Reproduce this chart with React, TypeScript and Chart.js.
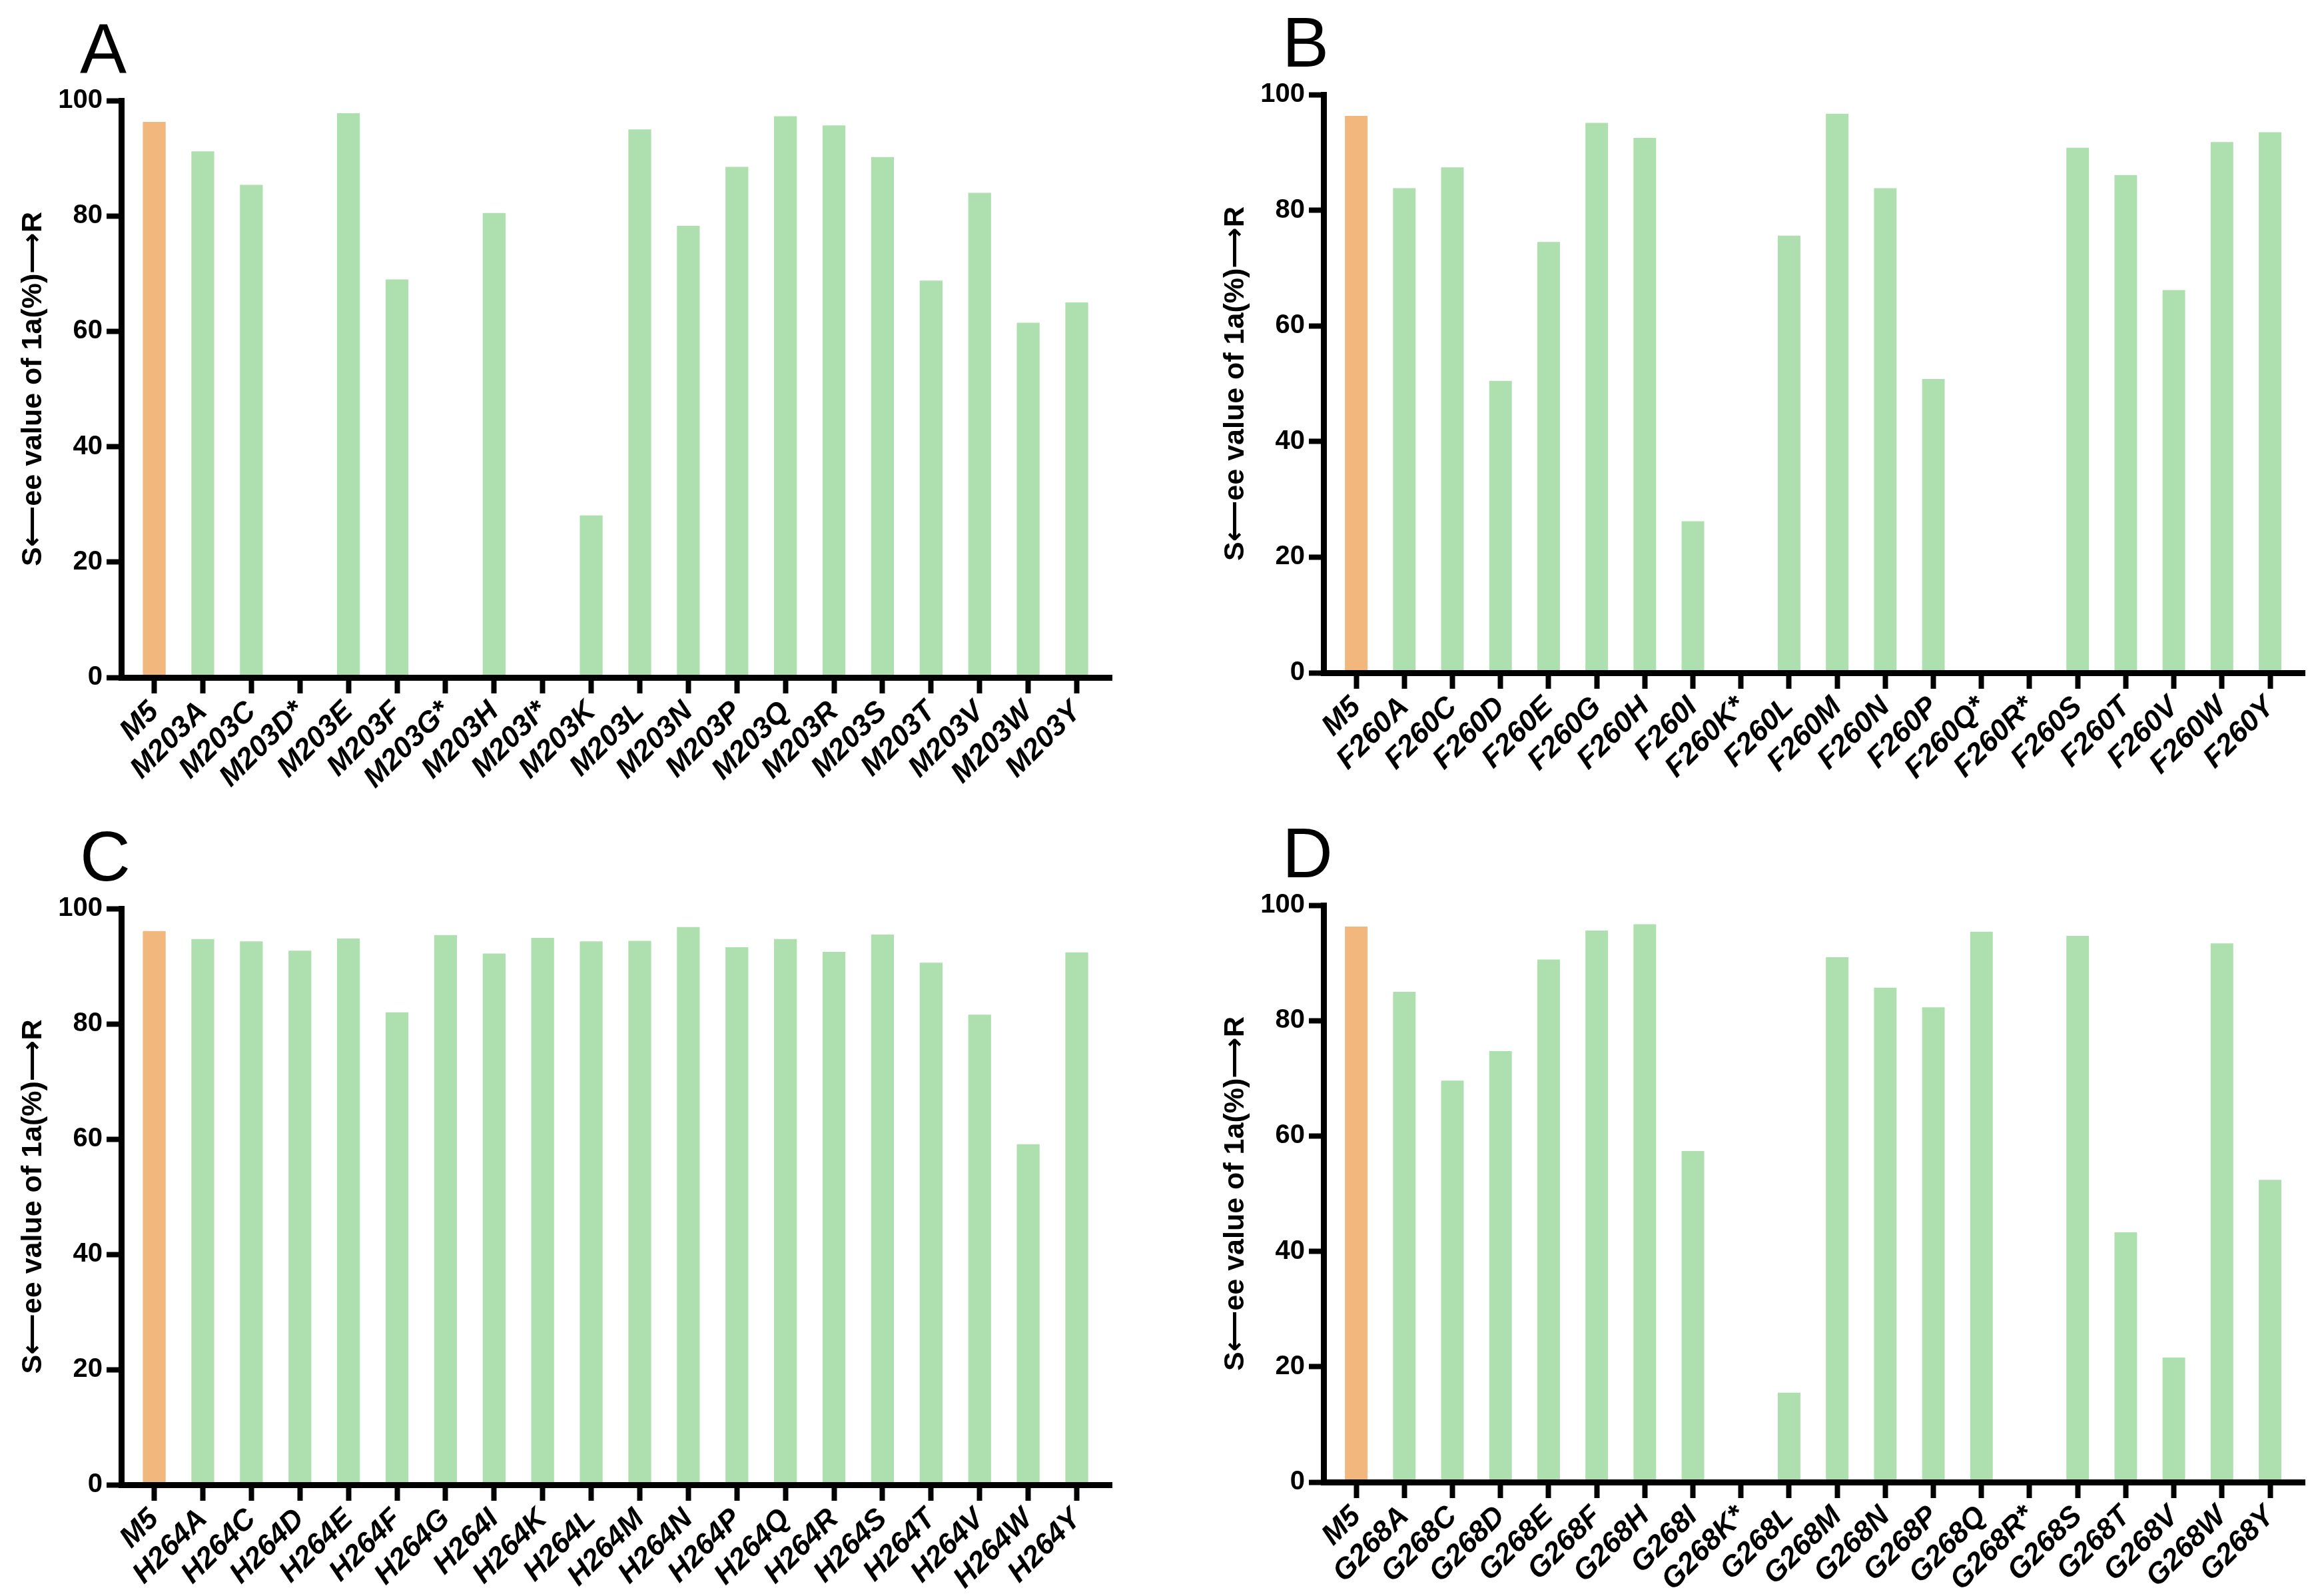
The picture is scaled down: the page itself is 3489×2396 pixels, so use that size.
import React, { useEffect, useRef } from 'react';
import { Chart, registerables } from 'chart.js';

Chart.register(...registerables);

const FONT = "'Liberation Sans', Arial, 'DejaVu Sans', sans-serif";
const ORANGE = '#F1B77C';
const GREEN = '#AEDFAF';

// ---- data ----
const labelsA = ['M5', 'M203A', 'M203C', 'M203D*', 'M203E', 'M203F', 'M203G*', 'M203H', 'M203I*', 'M203K', 'M203L', 'M203N', 'M203P', 'M203Q', 'M203R', 'M203S', 'M203T', 'M203V', 'M203W', 'M203Y'];
const valuesA = [96.3, 91.2, 85.4, null, 97.8, 69.0, null, 80.5, null, 28.1, 95.0, 78.3, 88.5, 97.3, 95.7, 90.2, 68.8, 84.0, 61.5, 65.0];

const labelsB = ['M5', 'F260A', 'F260C', 'F260D', 'F260E', 'F260G', 'F260H', 'F260I', 'F260K*', 'F260L', 'F260M', 'F260N', 'F260P', 'F260Q*', 'F260R*', 'F260S', 'F260T', 'F260V', 'F260W', 'F260Y'];
const valuesB = [96.3, 83.8, 87.4, 50.5, 74.5, 95.1, 92.5, 26.2, null, 75.6, 96.7, 83.8, 50.8, null, null, 90.8, 86.1, 66.2, 91.8, 93.5];

const labelsC = ['M5', 'H264A', 'H264C', 'H264D', 'H264E', 'H264F', 'H264G', 'H264I', 'H264K', 'H264L', 'H264M', 'H264N', 'H264P', 'H264Q', 'H264R', 'H264S', 'H264T', 'H264V', 'H264W', 'H264Y'];
const valuesC = [96.1, 94.7, 94.3, 92.7, 94.8, 82.0, 95.4, 92.2, 94.9, 94.3, 94.4, 96.8, 93.3, 94.7, 92.5, 95.5, 90.6, 81.6, 59.1, 92.4];

const labelsD = ['M5', 'G268A', 'G268C', 'G268D', 'G268E', 'G268F', 'G268H', 'G268I', 'G268K*', 'G268L', 'G268M', 'G268N', 'G268P', 'G268Q', 'G268R*', 'G268S', 'G268T', 'G268V', 'G268W', 'G268Y'];
const valuesD = [96.3, 85.0, 69.6, 74.7, 90.6, 95.6, 96.7, 57.4, null, 15.5, 91.0, 85.7, 82.3, 95.4, null, 94.7, 43.3, 21.6, 93.4, 52.4];

const yTicks = [0, 20, 40, 60, 80, 100];
const yTitle = 'S\u27F5ee value of 1a(%)\u27F6R';
const panelLetters = ['A', 'B', 'C', 'D'];

// ---- layout (pixels) ----
type Area = { left: number; top: number; right: number; bottom: number };
type PanelDef = {
  letter: string;
  labels: string[];
  values: (number | null)[];
  x: number;
  y: number;
  w: number;
  h: number;
  area: Area;
};

const PW = 1745;
const PH = 1198;

const panels: PanelDef[] = [
  { letter: panelLetters[0], labels: labelsA, values: valuesA, x: 0, y: 0, w: PW, h: PH, area: { left: 182, top: 151, right: 1669, bottom: 1017 } },
  { letter: panelLetters[1], labels: labelsB, values: valuesB, x: PW, y: 0, w: 3489 - PW, h: PH, area: { left: 1987 - PW, top: 142, right: 3460 - PW, bottom: 1010 } },
  { letter: panelLetters[2], labels: labelsC, values: valuesC, x: 0, y: PH, w: PW, h: 2396 - PH, area: { left: 182, top: 1364 - PH, right: 1669, bottom: 2229 - PH } },
  { letter: panelLetters[3], labels: labelsD, values: valuesD, x: PW, y: PH, w: 3489 - PW, h: 2396 - PH, area: { left: 1987 - PW, top: 1359 - PH, right: 3460 - PW, bottom: 2225 - PH } },
];

const letterPlugin = {
  id: 'panelLetter',
  afterDraw(chart: any, _args: any, opts: any) {
    const { ctx, chartArea } = chart;
    ctx.save();
    ctx.font = `105px ${FONT}`;
    ctx.fillStyle = '#000';
    ctx.textAlign = 'left';
    ctx.textBaseline = 'alphabetic';
    ctx.fillText(opts.text, chartArea.left - 62, chartArea.top - 42);
    ctx.restore();
  },
};

function Panel({ p }: { p: PanelDef }) {
  const ref = useRef<HTMLCanvasElement | null>(null);
  useEffect(() => {
    if (!ref.current) return;
    const { area, w, h, labels, values } = p;
    const startOff = 0.68;
    const endOff = 0.72;
    const chart = new Chart(ref.current, {
      type: 'bar',
      data: {
        labels,
        datasets: [
          {
            data: values as any,
            backgroundColor: labels.map((_, i) => (i === 0 ? ORANGE : GREEN)),
            borderWidth: 0,
            categoryPercentage: 1,
            barPercentage: 0.47,
          },
        ],
      },
      options: {
        animation: false,
        responsive: false,
        devicePixelRatio: 1,
        layout: { padding: { left: 0, top: area.top, right: w - area.right, bottom: 0 } },
        plugins: {
          legend: { display: false },
          tooltip: { enabled: false },
          title: { display: false },
          panelLetter: { text: p.letter },
        } as any,
        scales: {
          x: {
            type: 'category',
            offset: true,
            afterBuildTicks: (s: any) => {
              s._startValue = -startOff;
              s._valueRange = labels.length - 1 + startOff + endOff;
            },
            afterFit: (s: any) => {
              s.height = h - area.bottom;
            },
            grid: {
              display: true,
              drawOnChartArea: false,
              drawTicks: true,
              tickLength: 24,
              tickWidth: 8,
              tickColor: '#000',
              offset: false,
              z: 1,
            },
            border: { display: true, color: '#000', width: 9, z: 1 },
            ticks: {
              color: '#000',
              font: { family: FONT, size: 44, weight: 'bold', style: 'italic' },
              maxRotation: 45,
              minRotation: 45,
              autoSkip: false,
              padding: 2,
            },
          } as any,
          y: {
            min: 0,
            max: 100,
            afterFit: (s: any) => {
              s.width = area.left;
            },
            afterBuildTicks: (s: any) => {
              s.ticks = yTicks.map((v) => ({ value: v }));
            },
            grid: {
              display: true,
              drawOnChartArea: false,
              drawTicks: true,
              tickLength: 22,
              tickWidth: 8,
              tickColor: '#000',
              z: 1,
            },
            border: { display: true, color: '#000', width: 9, z: 1 },
            ticks: {
              color: '#000',
              font: { family: FONT, size: 40, weight: 'bold' },
              padding: 6,
            },
            title: {
              display: true,
              text: yTitle,
              color: '#000',
              font: { family: FONT, size: 43, weight: 'bold' },
              padding: { top: area.left - 158, bottom: 0 },
            },
          } as any,
        },
      },
      plugins: [letterPlugin as any],
    });
    return () => chart.destroy();
  }, [p]);
  return (
    <canvas
      ref={ref}
      width={p.w}
      height={p.h}
      style={{ position: 'absolute', left: p.x, top: p.y, width: p.w, height: p.h }}
    />
  );
}

export default function App() {
  return (
    <div style={{ position: 'absolute', left: 0, top: 0, width: 3489, height: 2396, background: '#fff', overflow: 'hidden' }}>
      {panels.map((p) => (
        <Panel key={p.letter} p={p} />
      ))}
    </div>
  );
}
